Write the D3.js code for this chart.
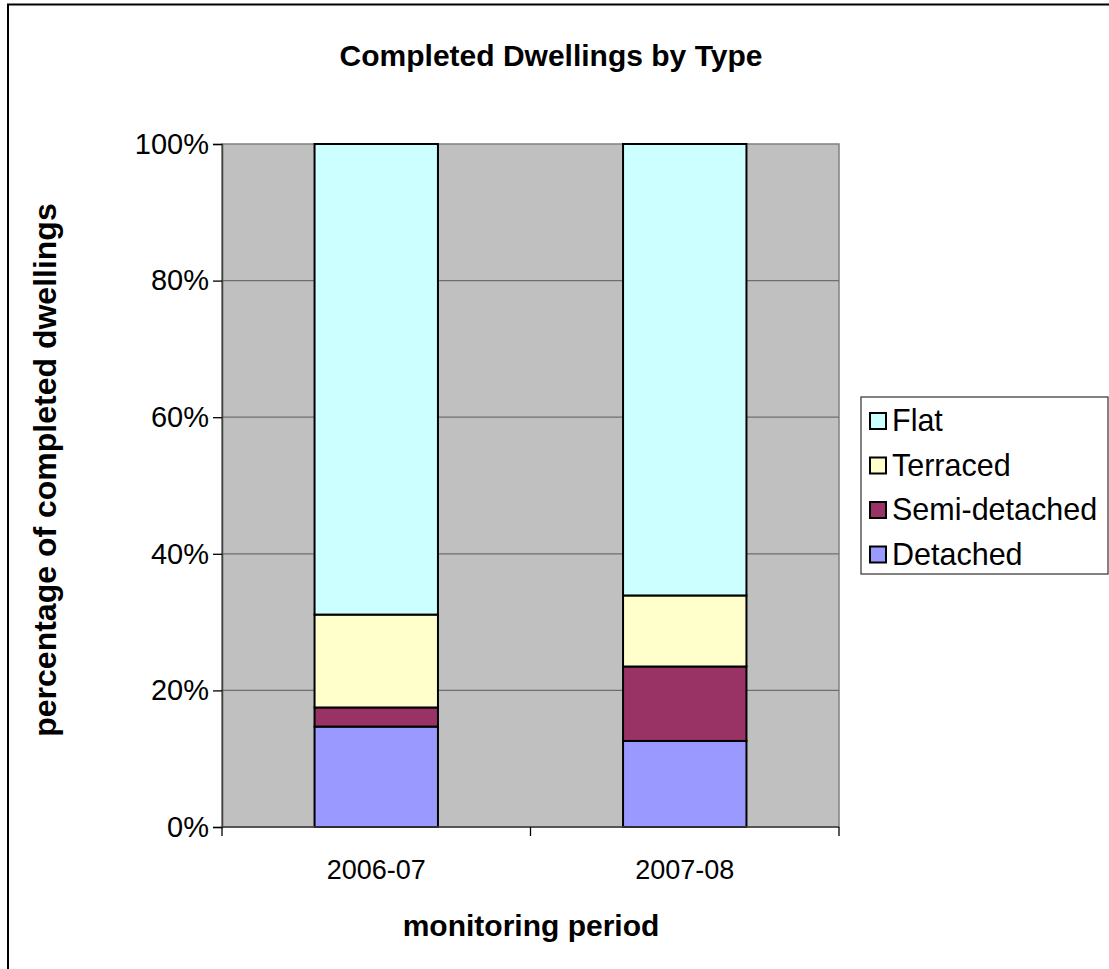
<!DOCTYPE html>
<html>
<head>
<meta charset="utf-8">
<script src="https://cdn.jsdelivr.net/npm/d3@7"></script>
<style>
  body { margin: 0; background: #fff; }
  text { font-family: "Liberation Sans", Arial, sans-serif; }
</style>
</head>
<body>
<svg id="chart"></svg>
<script>
// data
const periods = ['2006-07', '2007-08'];
const types = ['Detached', 'Semi-detached', 'Terraced', 'Flat'];
const detached = [14.7, 12.6];
const semiDetached = [2.8, 10.9];
const terraced = [13.6, 10.4];
const flat = [68.9, 66.1];
const yTicks = [0, 20, 40, 60, 80, 100];
const colors = ['#9999FF', '#993366', '#FFFFCC', '#CCFFFF'];

var svgWidth = 1109;
var svgHeight = 969;
var margin = {top: 144, left: 222};
var plotWidth = 617;
var plotHeight = 683;

var svg = d3.select('#chart')
  .attr('width', svgWidth)
  .attr('height', svgHeight);

// outer frame (runs off right and bottom)
svg.append('rect')
  .attr('x', 8)
  .attr('y', 4.5)
  .attr('width', svgWidth + 20)
  .attr('height', svgHeight + 20)
  .attr('fill', 'white')
  .attr('stroke', 'black')
  .attr('stroke-width', 2);

var rows = periods.map(function(p, i) {
  return {period: p, Detached: detached[i], 'Semi-detached': semiDetached[i], Terraced: terraced[i], Flat: flat[i]};
});

var stack = d3.stack().keys(types);
var series = stack(rows);

var x = d3.scaleBand()
  .domain(periods)
  .range([0, plotWidth])
  .paddingInner(0.6)
  .paddingOuter(0.3);

var y = d3.scaleLinear()
  .domain([0, 100])
  .range([plotHeight, 0]);

var g = svg.append('g')
  .attr('transform', 'translate(' + margin.left + ',' + margin.top + ')');

g.append('rect')
  .attr('width', plotWidth)
  .attr('height', plotHeight)
  .attr('fill', '#C0C0C0')
  .attr('stroke', '#808080')
  .attr('stroke-width', 1.5);

// gridlines
g.selectAll('.grid')
  .data(yTicks.slice(1, -1))
  .enter()
  .append('line')
  .attr('x1', 0)
  .attr('x2', plotWidth)
  .attr('y1', function(d) { return y(d); })
  .attr('y2', function(d) { return y(d); })
  .attr('stroke', '#6e6e6e')
  .attr('stroke-width', 1.3);

// bars
var layer = g.selectAll('.layer')
  .data(series)
  .enter()
  .append('g')
  .attr('fill', function(d, i) { return colors[i]; });

layer.selectAll('rect')
  .data(function(d) { return d; })
  .enter()
  .append('rect')
  .attr('x', function(d) { return x(d.data.period); })
  .attr('width', x.bandwidth())
  .attr('y', function(d) { return y(d[1]); })
  .attr('height', function(d) { return y(d[0]) - y(d[1]); })
  .attr('stroke', 'black')
  .attr('stroke-width', 2);

// y axis
var yAxis = d3.axisLeft(y)
  .tickValues(yTicks)
  .tickFormat(function(d) { return d + '%'; })
  .tickSize(9)
  .tickPadding(4);

var yAxisG = g.append('g').call(yAxis);
yAxisG.select('.domain').attr('stroke', '#404040').attr('stroke-width', 1.5);
yAxisG.selectAll('.tick line').attr('stroke', 'black').attr('stroke-width', 1.3);
yAxisG.selectAll('.tick text')
  .attr('font-size', 29)
  .attr('fill', 'black')
  .style('font-family', '"Liberation Sans", Arial, sans-serif');

// x axis: ticks sit between categories
var xTickPos = [0, plotWidth / 2, plotWidth];
var xAxisG = g.append('g').attr('transform', 'translate(0,' + plotHeight + ')');
xAxisG.append('line')
  .attr('x1', 0).attr('x2', plotWidth)
  .attr('stroke', '#404040').attr('stroke-width', 1.5);
xAxisG.selectAll('.xtick')
  .data(xTickPos)
  .enter()
  .append('line')
  .attr('x1', function(d) { return d; })
  .attr('x2', function(d) { return d; })
  .attr('y1', 0)
  .attr('y2', 9)
  .attr('stroke', 'black')
  .attr('stroke-width', 1.3);
xAxisG.selectAll('.xlabel')
  .data(periods)
  .enter()
  .append('text')
  .attr('x', function(d) { return x(d) + x.bandwidth() / 2; })
  .attr('y', 52)
  .attr('text-anchor', 'middle')
  .attr('font-size', 27)
  .text(function(d) { return d; });

// titles
svg.append('text')
  .attr('x', 551)
  .attr('y', 66)
  .attr('text-anchor', 'middle')
  .attr('font-size', 30)
  .attr('font-weight', 'bold')
  .text('Completed Dwellings by Type');

svg.append('text')
  .attr('x', 531)
  .attr('y', 936)
  .attr('text-anchor', 'middle')
  .attr('font-size', 30)
  .attr('font-weight', 'bold')
  .text('monitoring period');

svg.append('text')
  .attr('transform', 'translate(56,470) rotate(-90)')
  .attr('text-anchor', 'middle')
  .attr('font-size', 32)
  .attr('font-weight', 'bold')
  .text('percentage of completed dwellings');

// legend, top entry is Flat
var legend = svg.append('g').attr('transform', 'translate(861,397)');
legend.append('rect')
  .attr('width', 247)
  .attr('height', 177)
  .attr('fill', 'white')
  .attr('stroke', '#404040')
  .attr('stroke-width', 1.3);

var legendItems = legend.selectAll('.item')
  .data(types.slice().reverse())
  .enter()
  .append('g')
  .attr('transform', function(d, i) { return 'translate(9,' + (24 + i * 44.5) + ')'; });

legendItems.append('rect')
  .attr('x', 0)
  .attr('y', -8)
  .attr('width', 16)
  .attr('height', 16)
  .attr('fill', function(d) { return colors[types.indexOf(d)]; })
  .attr('stroke', 'black')
  .attr('stroke-width', 2);

legendItems.append('text')
  .attr('x', 22)
  .attr('y', 10)
  .attr('font-size', 30.5)
  .text(function(d) { return d; });
</script>
</body>
</html>
